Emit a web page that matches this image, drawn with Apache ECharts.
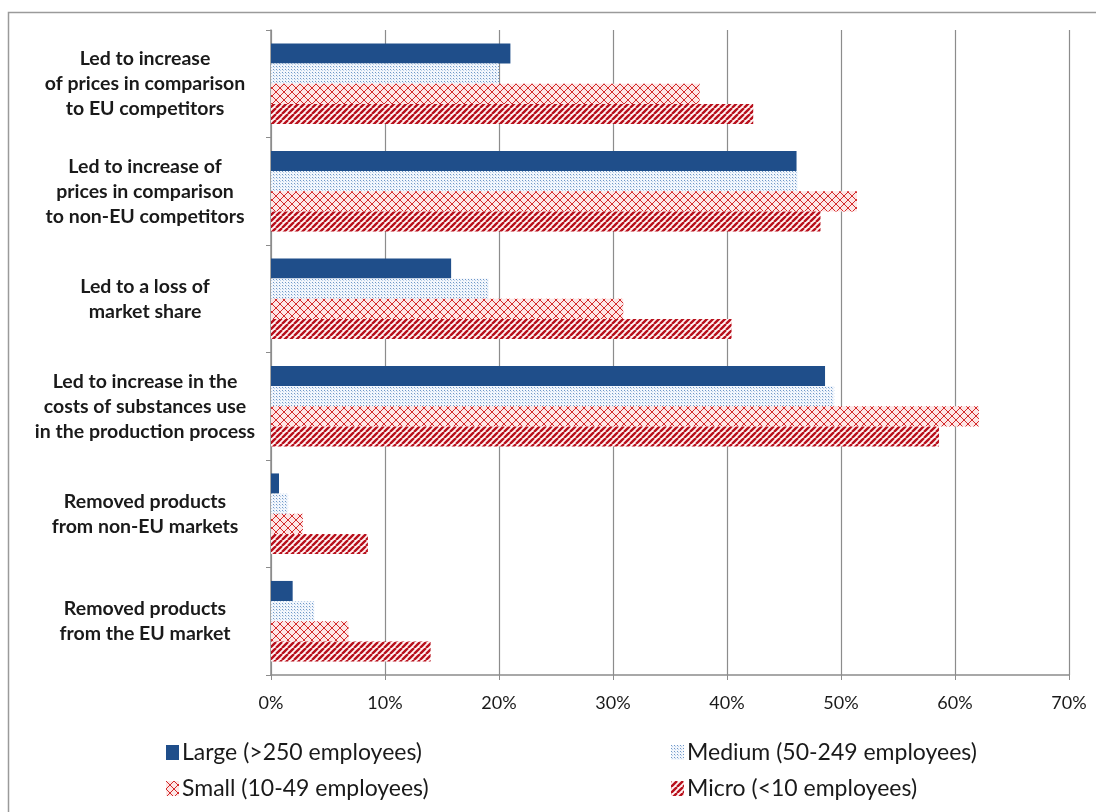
<!DOCTYPE html>
<html>
<head>
<meta charset="utf-8">
<script src="https://cdn.jsdelivr.net/npm/echarts@6/dist/echarts.min.js"></script>
<style>
  html, body { margin: 0; padding: 0; background: #fff; }
  #chart { width: 1096px; height: 812px; }
</style>
</head>
<body>
<div id="chart"></div>
<script>
const categories = [
  'Led to increase\nof prices in comparison\nto EU competitors',
  'Led to increase of\nprices in comparison\nto non-EU competitors',
  'Led to a loss of\nmarket share',
  'Led to increase in the\ncosts of substances use\nin the production process',
  'Removed products\nfrom non-EU markets',
  'Removed products\nfrom the EU market'
];
const seriesNames = [
  'Large (>250 employees)',
  'Medium (50-249 employees)',
  'Small (10-49 employees)',
  'Micro (<10 employees)'
];
const large  = [21.0, 46.1, 15.8, 48.6, 0.7, 1.9];
const medium = [20.0, 46.2, 19.1, 49.4, 1.5, 3.8];
const small  = [37.6, 51.4, 30.9, 62.1, 2.8, 6.8];
const micro  = [42.3, 48.2, 40.4, 58.6, 8.5, 14.0];
const xMin = 0, xMax = 70, xStep = 10;

// Fill patterns for the bars
function makeTile(w, h, draw) {
  const c = document.createElement('canvas');
  c.width = w; c.height = h;
  draw(c.getContext('2d'));
  return c;
}
const dotTile = makeTile(3, 3, g => {
  g.fillStyle = '#f2f6fc'; g.fillRect(0, 0, 3, 3);
  g.fillStyle = '#6f98c8'; g.fillRect(0, 0, 1, 1);
  g.fillStyle = '#b9cfe8'; g.fillRect(1, 1, 1, 1);
});
const crossTile = makeTile(8, 8, g => {
  g.fillStyle = '#fde6e6'; g.fillRect(0, 0, 8, 8);
  g.strokeStyle = '#d42a2a'; g.lineWidth = 1;
  g.beginPath();
  g.moveTo(0, 0); g.lineTo(8, 8);
  g.moveTo(8, 0); g.lineTo(0, 8);
  g.stroke();
});
const stripeTile = makeTile(6, 6, g => {
  g.fillStyle = '#fff3f3'; g.fillRect(0, 0, 6, 6);
  g.strokeStyle = '#b8101c'; g.lineWidth = 2.4;
  g.beginPath();
  for (let k = -6; k <= 12; k += 6) { g.moveTo(k, 6); g.lineTo(k + 6, 0); }
  g.stroke();
});
const fills = [
  '#1f4e8a',
  { image: dotTile, repeat: 'repeat' },
  { image: crossTile, repeat: 'repeat' },
  { image: stripeTile, repeat: 'repeat' }
];
const values = [large, medium, small, micro];

const chart = echarts.init(document.getElementById('chart'));
const legendPos = [
  { left: 161, top: 736 }, { left: 666, top: 736 },
  { left: 161, top: 772 }, { left: 666, top: 772 }
];
chart.setOption({
  animation: false,
  textStyle: { fontFamily: 'Lato, sans-serif' },
  graphic: [{
    type: 'rect', shape: { x: 8.5, y: 12.5, width: 1100, height: 820 },
    style: { fill: 'none', stroke: '#9a9a9a', lineWidth: 1.5 }, silent: true
  }],
  grid: { left: 271, right: 27, top: 30, bottom: 137, containLabel: false },
  legend: seriesNames.map((n, i) => ({
    data: [n], left: legendPos[i].left, top: legendPos[i].top,
    icon: 'rect', itemWidth: 13, itemHeight: 15, itemGap: 4,
    textStyle: { fontSize: 23, color: '#1a1a1a', fontFamily: 'Lato, sans-serif', padding: [0, 0, 0, -2] },
    selectedMode: false
  })),
  xAxis: {
    type: 'value', min: xMin, max: xMax, interval: xStep,
    axisLine: { show: true, lineStyle: { color: '#8c8c8c', width: 1.5 } },
    axisTick: { show: true, length: 5, lineStyle: { color: '#8c8c8c' } },
    splitLine: { show: true, lineStyle: { color: '#8c8c8c', width: 1.2 } },
    axisLabel: { formatter: '{value}%', fontSize: 18, color: '#1a1a1a', margin: 19 }
  },
  yAxis: {
    type: 'category', data: categories, inverse: true,
    axisLine: { show: true, lineStyle: { color: '#8c8c8c', width: 1.5 } },
    axisTick: { show: true, length: 5, lineStyle: { color: '#8c8c8c' } },
    axisLabel: {
      fontSize: 19.5, fontWeight: 'bold', color: '#1a1a1a', align: 'center',
      margin: 126, lineHeight: 25
    }
  },
  series: seriesNames.map((n, i) => ({
    name: n, type: 'bar', data: values[i],
    barGap: '0%', barCategoryGap: '25%',
    itemStyle: { color: fills[i] }
  }))
});
</script>
</body>
</html>
